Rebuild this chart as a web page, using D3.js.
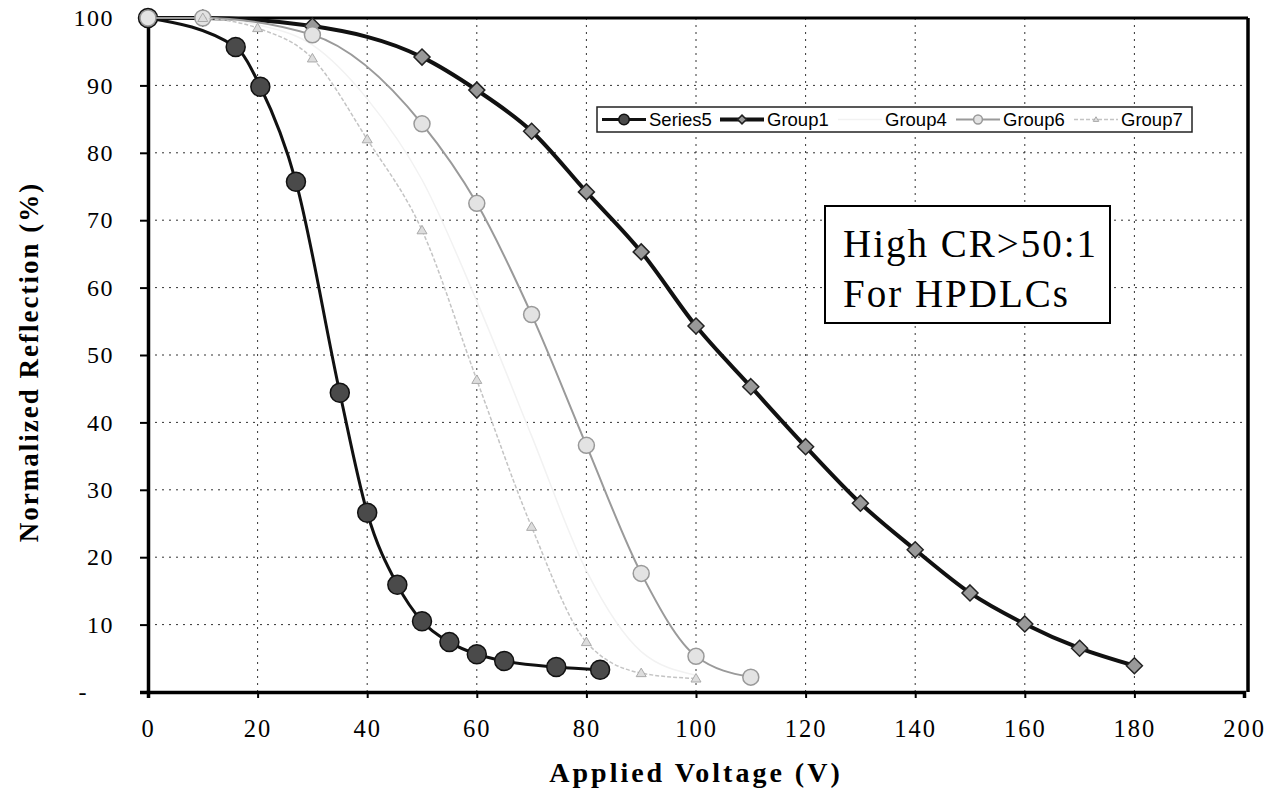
<!DOCTYPE html>
<html><head><meta charset="utf-8">
<script src="https://cdn.jsdelivr.net/npm/d3@7"></script>
<style>body{margin:0;background:#fff}svg{display:block}</style>
</head><body><svg id="c" width="1282" height="790"></svg>
<script>
const xTicks=[0,20,40,60,80,100,120,140,160,180,200];
const yTicks=[0,10,20,30,40,50,60,70,80,90,100];
const seriesNames=["Series5","Group1","Group4","Group6","Group7"];
const series5X=[0,16,20.5,27,35,40,45.5,50,55,60,65,74.5,82.5];
const series5Y=[100,95.7,89.8,75.7,44.4,26.6,15.9,10.5,7.4,5.6,4.6,3.7,3.3];
const group1X=[0,10,30,50,60,70,80,90,100,110,120,130,140,150,160,170,180];
const group1Y=[100,100,98.8,94.2,89.3,83.2,74.2,65.3,54.3,45.3,36.4,28.0,21.1,14.7,10.1,6.5,3.9];
const group4X=[0,10,20,30,40,50,60,70,80,90,100];
const group4Y=[100,100,99,96,88,76,58,38,18,6,2.5];
const group6X=[0,10,30,50,60,70,80,90,100,110];
const group6Y=[100,100,97.5,84.3,72.5,56.0,36.6,17.6,5.3,2.2];
const group7X=[10,20,30,40,50,60,70,80,90,100];
const group7Y=[100,98.5,94,82,68.5,46.3,24.5,7.4,2.8,2.0];

const svg=d3.select("#c");
const x=d3.scaleLinear().domain([0,200]).range([148,1244]);
const y=d3.scaleLinear().domain([0,100]).range([692,18]);
const serif="'Liberation Serif','Times New Roman',serif";
const sans="'Liberation Sans',Arial,sans-serif";

// gridlines
svg.append("g").selectAll("line").data(yTicks.filter(d=>d>0&&d<100)).join("line")
 .attr("x1",x(0)).attr("x2",x(200)).attr("y1",d=>y(d)).attr("y2",d=>y(d))
 .attr("stroke","#333").attr("stroke-width",1).attr("stroke-dasharray","2,5");
svg.append("g").selectAll("line").data(xTicks.filter(d=>d>0&&d<200)).join("line")
 .attr("y1",y(0)).attr("y2",y(100)).attr("x1",d=>x(d)).attr("x2",d=>x(d))
 .attr("stroke","#333").attr("stroke-width",1).attr("stroke-dasharray","2,5");

// frame
svg.append("line").attr("x1",x(0)).attr("x2",x(200)+4).attr("y1",y(100)).attr("y2",y(100)).attr("stroke","#000").attr("stroke-width",3);
svg.append("line").attr("x1",x(200)+4).attr("x2",x(200)+4).attr("y1",y(100)).attr("y2",y(0)).attr("stroke","#000").attr("stroke-width",3.5);

// axes
const yAxis=d3.axisLeft(y).tickValues(yTicks).tickSize(8).tickPadding(26).tickFormat(d=>d===0?"-":d);
const gy=svg.append("g").attr("transform",`translate(${x(0)},0)`).call(yAxis);
gy.select(".domain").attr("stroke","#000").attr("stroke-width",3.5);
gy.selectAll(".tick line").attr("stroke","#000").attr("stroke-width",2);
gy.selectAll("text").attr("font-family",serif).attr("font-size",24).attr("letter-spacing","1.5px").attr("fill","#000");
gy.selectAll(".tick").filter(d=>d===0).select("text").attr("dx",-26);

const xAxis=d3.axisBottom(x).tickValues(xTicks).tickSize(6).tickPadding(22);
const gx=svg.append("g").attr("transform",`translate(0,${y(0)})`).call(xAxis);
gx.select(".domain").attr("stroke","#000").attr("stroke-width",3.5);
gx.selectAll(".tick line").attr("stroke","#000").attr("stroke-width",2);
gx.selectAll("text").attr("font-family",serif).attr("font-size",24.5).attr("fill","#000").attr("letter-spacing","2px");

// axis titles
svg.append("text").attr("transform",`translate(38,362) rotate(-90)`)
 .attr("text-anchor","middle").attr("font-family",serif).attr("font-weight","bold").attr("font-size",27).attr("letter-spacing","2px").text("Normalized Reflection (%)");
svg.append("text").attr("x",(x(0)+x(200))/2).attr("y",782).attr("text-anchor","middle")
 .attr("font-family",serif).attr("font-weight","bold").attr("font-size",28).attr("letter-spacing","3px").text("Applied Voltage (V)");

const line=d3.line().x(d=>x(d[0])).y(d=>y(d[1])).curve(d3.curveMonotoneX);
const zip=(a,b)=>a.map((v,i)=>[v,b[i]]);

const styles={
 Series5:{data:zip(series5X,series5Y),stroke:"#111",sw:3,marker:"circle",r:9.5,fill:"#4a4a4a",mstroke:"#111"},
 Group1:{data:zip(group1X,group1Y),stroke:"#111",sw:4,marker:"diamond",r:8,fill:"#999",mstroke:"#222"},
 Group4:{data:zip(group4X,group4Y),stroke:"#f2f2f2",sw:1.5,marker:"none"},
 Group6:{data:zip(group6X,group6Y),stroke:"#9a9a9a",sw:2,marker:"circle",r:8,fill:"#e3e3e3",mstroke:"#999"},
 Group7:{data:zip(group7X,group7Y),stroke:"#c4c4c4",sw:1.5,marker:"tri",r:5,fill:"#ddd",mstroke:"#aaa",dash:"4,2"}
};
function marker(g,st,cx,cy,scale){
 const r=st.r*(scale||1);
 if(st.marker==="circle") g.append("circle").attr("cx",cx).attr("cy",cy).attr("r",r).attr("fill",st.fill).attr("stroke",st.mstroke).attr("stroke-width",1.5);
 else if(st.marker==="diamond") g.append("path").attr("d",`M${cx},${cy-r}L${cx+r},${cy}L${cx},${cy+r}L${cx-r},${cy}Z`).attr("fill",st.fill).attr("stroke",st.mstroke).attr("stroke-width",1.5);
 else if(st.marker==="tri") g.append("path").attr("d",`M${cx},${cy-r}L${cx+r},${cy+r*0.7}L${cx-r},${cy+r*0.7}Z`).attr("fill",st.fill).attr("stroke",st.mstroke).attr("stroke-width",1);
}
seriesNames.forEach(n=>{
 const st=styles[n];
 svg.append("path").datum(st.data).attr("d",line).attr("fill","none").attr("stroke",st.stroke).attr("stroke-width",st.sw).attr("stroke-dasharray",st.dash||null);
 const g=svg.append("g");
 st.data.forEach(d=>marker(g,st,x(d[0]),y(d[1])));
});

// legend
const lg=svg.append("g");
lg.append("rect").attr("x",597).attr("y",107).attr("width",595).attr("height",25).attr("fill","#fff").attr("stroke","#222").attr("stroke-width",1.5);
seriesNames.forEach((n,i)=>{
 const st=styles[n]; const x0=602+i*118, cy=119.5;
 lg.append("line").attr("x1",x0).attr("x2",x0+44).attr("y1",cy).attr("y2",cy).attr("stroke",st.stroke).attr("stroke-width",st.sw).attr("stroke-dasharray",st.dash||null);
 marker(lg,st,x0+22,cy,0.55);
 lg.append("text").attr("x",x0+47).attr("y",cy+6.5).attr("font-family",sans).attr("font-size",18.5).attr("fill","#000").text(n);
});

// annotation box
const bx=svg.append("g");
bx.append("rect").attr("x",825).attr("y",206).attr("width",285).attr("height",117).attr("fill","#fff").attr("stroke","#000").attr("stroke-width",2);
bx.append("text").attr("x",843).attr("y",257).attr("font-family",serif).attr("font-size",39).attr("letter-spacing","2px").text("High CR>50:1");
bx.append("text").attr("x",843).attr("y",307).attr("font-family",serif).attr("font-size",39).attr("letter-spacing","2px").text("For HPDLCs");
</script></body></html>
